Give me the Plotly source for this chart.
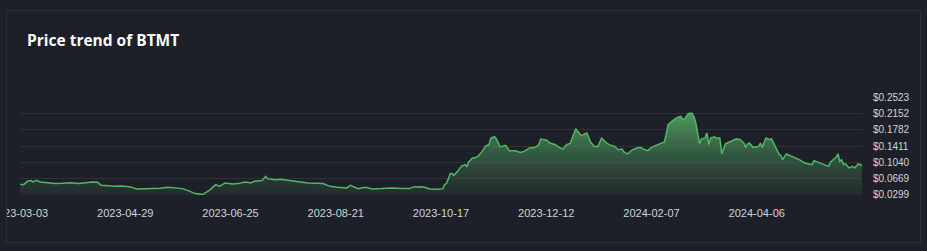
import plotly.graph_objects as go

# ---- data ----
day_index = [0, 2, 4, 6, 7, 9, 11, 15, 19, 23, 27, 32, 35, 39, 42, 44, 48, 51, 55, 60,
             63, 68, 71, 76, 80, 83, 88, 91, 95, 99, 103, 106, 108, 111, 115, 118, 122, 125, 127, 131,
             133, 134, 138, 141, 145, 149, 152, 156, 164, 168, 172, 177, 179, 181, 183, 187, 191, 196, 201, 207,
             211, 213, 217, 219, 222, 226, 228, 229, 230, 231, 232, 233, 234, 235, 237, 239, 241, 242, 243, 245,
             246, 248, 250, 252, 254, 255, 257, 258, 260, 263, 265, 268, 271, 273, 276, 279, 281, 282, 285, 287,
             290, 292, 294, 296, 298, 300, 301, 302, 304, 305, 307, 309, 311, 313, 315, 317, 319, 322, 324, 326,
             327, 329, 331, 334, 336, 337, 340, 342, 345, 347, 349, 350, 351, 354, 356, 358, 359, 360, 362, 364,
             365, 366, 367, 368, 369, 371, 372, 373, 374, 376, 377, 379, 380, 382, 383, 385, 388, 390, 392, 393,
             394, 395, 397, 400, 401, 402, 403, 404, 406, 407, 409, 411, 412, 413, 415, 417, 420, 422, 425, 427,
             429, 430, 432, 434, 436, 438, 439, 442, 443, 444, 445, 446, 447, 449, 451, 452, 454, 456]
price = [0.0544, 0.0533, 0.0608, 0.0624, 0.0594, 0.0630, 0.0594, 0.0571, 0.0556, 0.0562, 0.0578, 0.0556, 0.0578, 0.0594, 0.0585, 0.0517, 0.0510, 0.0494, 0.0503, 0.0481,
         0.0435, 0.0435, 0.0449, 0.0449, 0.0471, 0.0458, 0.0442, 0.0397, 0.0329, 0.0306, 0.0419, 0.0533, 0.0494, 0.0571, 0.0549, 0.0556, 0.0594, 0.0571, 0.0608, 0.0624,
         0.0721, 0.0669, 0.0646, 0.0653, 0.0624, 0.0608, 0.0594, 0.0571, 0.0556, 0.0494, 0.0471, 0.0458, 0.0517, 0.0481, 0.0442, 0.0471, 0.0435, 0.0442, 0.0458, 0.0442,
         0.0442, 0.0481, 0.0487, 0.0471, 0.0435, 0.0426, 0.0435, 0.0442, 0.0533, 0.0562, 0.0669, 0.0783, 0.0783, 0.0744, 0.0835, 0.0948, 0.0987, 0.0948, 0.1048, 0.1139,
         0.1139, 0.1175, 0.1266, 0.1402, 0.1441, 0.1593, 0.1622, 0.1570, 0.1389, 0.1425, 0.1305, 0.1305, 0.1266, 0.1289, 0.1366, 0.1380, 0.1441, 0.1570, 0.1548, 0.1479,
         0.1441, 0.1380, 0.1343, 0.1441, 0.1470, 0.1706, 0.1804, 0.1745, 0.1645, 0.1668, 0.1706, 0.1502, 0.1402, 0.1402, 0.1593, 0.1502, 0.1441, 0.1402, 0.1327, 0.1343,
         0.1275, 0.1230, 0.1305, 0.1366, 0.1380, 0.1350, 0.1305, 0.1380, 0.1425, 0.1457, 0.1502, 0.1684, 0.1895, 0.2008, 0.2061, 0.2083, 0.2008, 0.2031, 0.2150, 0.2155,
         0.2083, 0.1933, 0.1668, 0.1457, 0.1570, 0.1593, 0.1706, 0.1441, 0.1593, 0.1622, 0.1593, 0.1593, 0.1230, 0.1457, 0.1479, 0.1516, 0.1577, 0.1554, 0.1479, 0.1380,
         0.1457, 0.1479, 0.1380, 0.1402, 0.1479, 0.1380, 0.1479, 0.1593, 0.1554, 0.1577, 0.1402, 0.1230, 0.1198, 0.1100, 0.1230, 0.1198, 0.1139, 0.1100, 0.1025, 0.1003,
         0.0987, 0.1078, 0.1048, 0.1003, 0.0987, 0.0948, 0.1048, 0.1153, 0.1230, 0.1062, 0.1100, 0.0987, 0.1010, 0.0912, 0.0948, 0.0912, 0.1003, 0.0971]

x_tick_index = [0, 57, 114, 171, 228, 285, 342, 399]
x_tick_labels = ["2023-03-03", "2023-04-29", "2023-06-25", "2023-08-21",
                 "2023-10-17", "2023-12-12", "2024-02-07", "2024-04-06"]
y_tick_values = [0.0299, 0.0669, 0.1040, 0.1411, 0.1782, 0.2152, 0.2523]
y_tick_labels = ["$0.0299", "$0.0669", "$0.1040", "$0.1411", "$0.1782", "$0.2152", "$0.2523"]
title_text = "Price trend of BTMT"

BG = "#1e2029"
GRID = "#35302f"
LINE = "#4fb866"
TICK = "#d2d4d8"

fig = go.Figure()
fig.add_trace(go.Scatter(
    x=day_index, y=price, mode="lines",
    line=dict(color=LINE, width=1.5),
    fill="tozeroy",
    fillgradient=dict(type="vertical",
                      start=0.0299, stop=0.2152,
                      colorscale=[[0, "rgba(60,110,75,0.15)"], [1, "rgba(84,168,100,0.9)"]]),
    hoverinfo="skip", showlegend=False,
))

L, R, T, B = 20, 65, 97, 56
W, H = 927, 251
pw, ph = W - L - R, H - T - B

fig.update_layout(
    width=W, height=H,
    paper_bgcolor=BG, plot_bgcolor=BG,
    margin=dict(l=L, r=R, t=T, b=B, pad=0, autoexpand=False),
    title=dict(text=f"<b>{title_text}</b>", x=27 / W, xanchor="left", xref="container",
               y=1 - 41 / H, yanchor="middle", yref="container",
               font=dict(family="Open Sans", size=15.5, color="#ffffff")),
    xaxis=dict(range=[0, 456], tickmode="array", tickvals=x_tick_index, ticktext=x_tick_labels,
               showgrid=False, zeroline=False, showline=False, ticks="", automargin=False,
               tickfont=dict(family="Liberation Sans, Arial", size=11, color=TICK),
               ticklabelstandoff=10, ticklabeloverflow="allow"),
    yaxis=dict(range=[0.0297, 0.2525], tickmode="array", tickvals=y_tick_values, ticktext=y_tick_labels,
               side="right", showgrid=True, gridcolor=GRID, gridwidth=1, zeroline=False,
               showline=False, ticks="", automargin=False,
               tickfont=dict(family="Liberation Sans, Arial", size=10, color=TICK),
               ticklabelstandoff=10),
    shapes=[
        # panel-edge mask: the panel clips the first date label, as in the reference
        dict(type="rect", xref="paper", yref="paper",
             x0=(-2 - L) / pw, x1=(6.5 - L) / pw,
             y0=(H - B - 252) / ph, y1=(H - B + 1) / ph,
             line=dict(width=0), fillcolor=BG, layer="above"),
        dict(type="rect", xref="paper", yref="paper",
             x0=(6.5 - L) / pw, x1=(920.5 - L) / pw,
             y0=(H - B - 242.5) / ph, y1=(H - B - 10.5) / ph,
             line=dict(color="#2c2f39", width=1), fillcolor="rgba(0,0,0,0)", layer="above"),
    ],
)

fig.write_html("out.html")
